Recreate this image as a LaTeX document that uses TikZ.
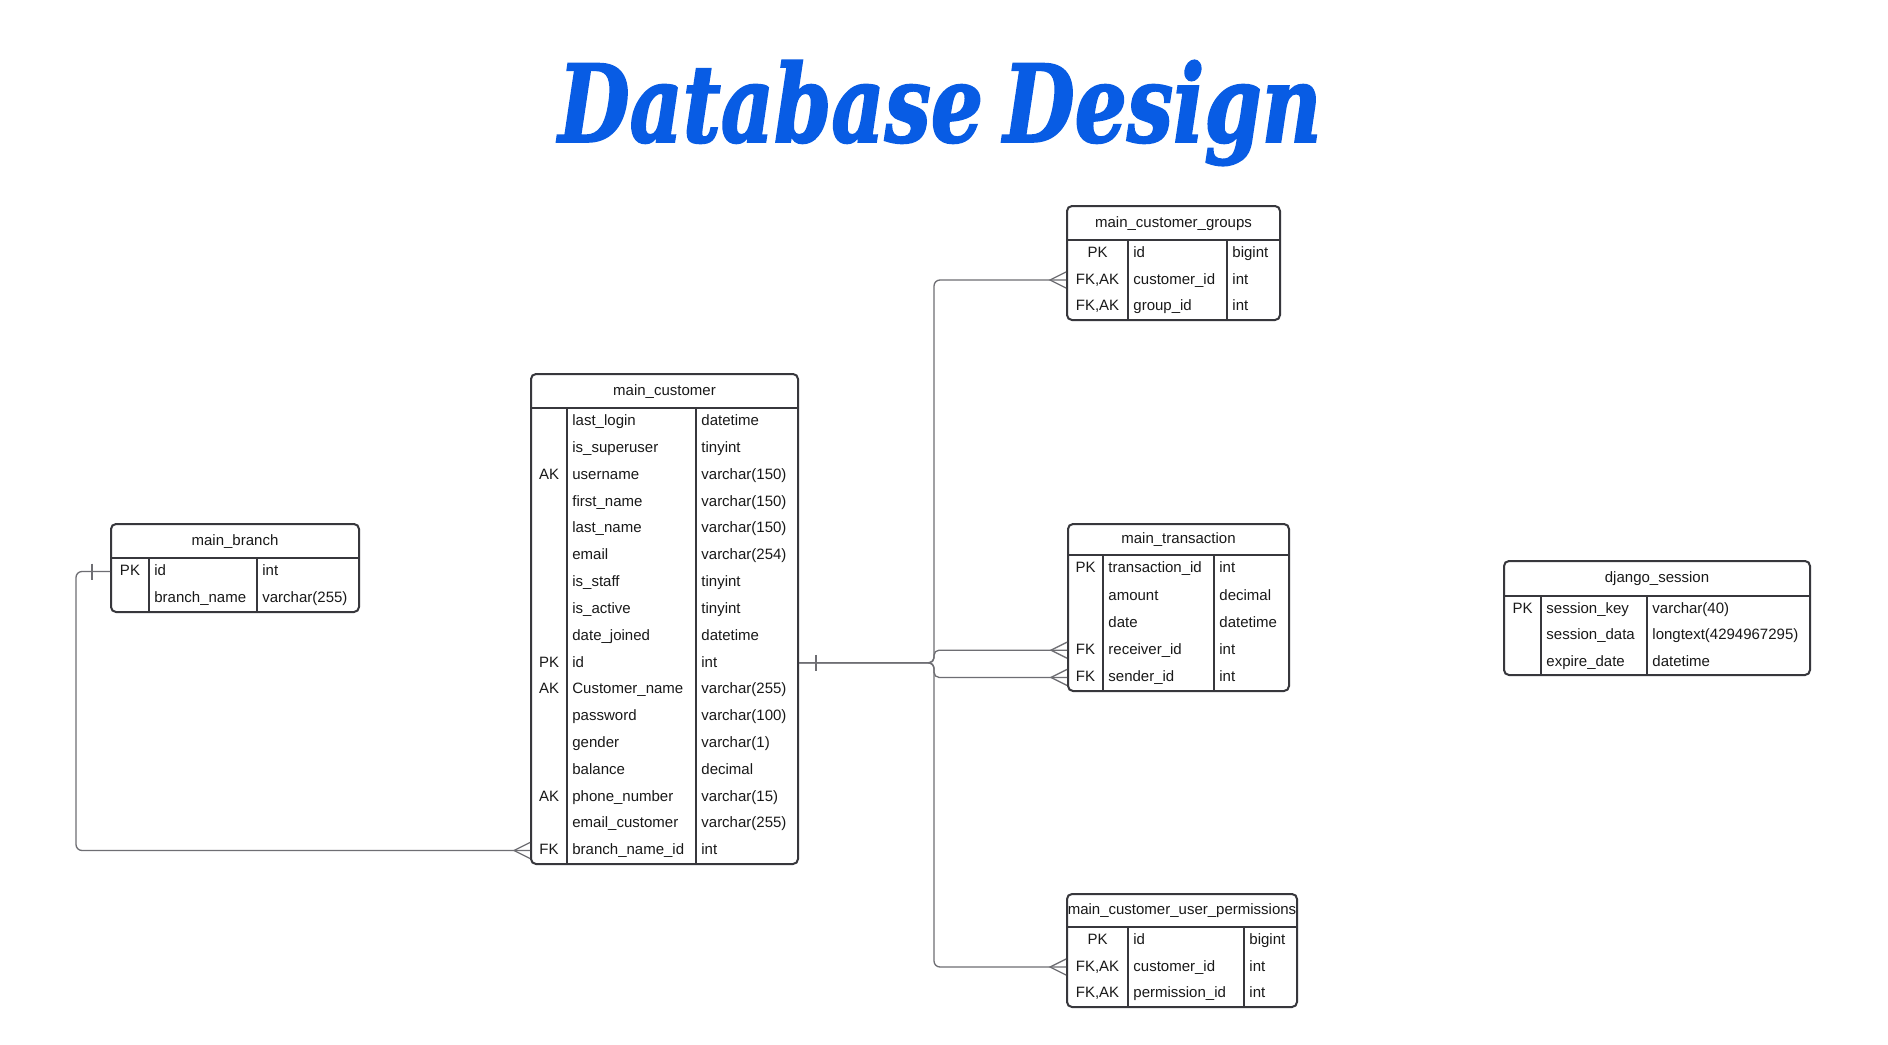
\documentclass[tikz,border=0pt]{standalone}
\usepackage{fontspec}
\usepackage{graphicx}
\setmainfont{Liberation Sans}
\newfontfamily\titlefont{DejaVu Serif}[BoldItalicFeatures={FakeBold=2}]
\usetikzlibrary{fit,calc}
\definecolor{titleblue}{RGB}{8,92,228}
\definecolor{boxline}{RGB}{55,55,60}
\definecolor{connline}{RGB}{110,110,115}
\definecolor{txt}{RGB}{25,25,25}
\newcommand\erRow[5]{%
  \node[keyt] (#1k) at (\kx,#2) {#3};
  \node[namet] (#1n) at (\nx,#2) {#4};
  \node[typet] (#1t) at (\tx,#2) {#5};}
\tikzset{
  tbl/.style={draw=boxline, line width=1pt, rounded corners=2.5pt, inner sep=0pt},
  cell/.style={inner sep=0pt, text=txt, font=\fontsize{7.5}{9}\selectfont, text height=5.6pt, text depth=1.4pt},
  keyt/.style={cell, anchor=center},
  namet/.style={cell, anchor=west},
  typet/.style={cell, anchor=west},
  hdr/.style={cell, anchor=center},
  gridline/.style={draw=boxline, line width=0.8pt},
  conn/.style={draw=connline, line width=0.65pt},
}
\begin{document}
\begin{tikzpicture}[x=0.5pt, y=-0.5pt]
\fill[white] (0,0) rectangle (1888,1044);
\useasboundingbox (0,0) rectangle (1888,1044);

% Title
\node[text=titleblue, inner sep=0pt] (title) at (940,113)
  {\resizebox*{381.5pt}{52.5pt}{\titlefont\bfseries\itshape Database\kern-0.1em\ Design}};

% main_branch
\node[tbl, fit={(111,524)(359,612)}] (mb) {};
\draw[gridline] (111,558) -- (359,558);
\draw[gridline] (149,558) -- (149,612);
\draw[gridline] (257,558) -- (257,612);
\node[hdr] (mbh) at (235,541) {main\_branch};
\def\kx{130}\def\nx{154}\def\tx{262}
\erRow{mb1}{571.5}{PK}{id}{int}
\erRow{mb2}{598.5}{}{branch\_name}{varchar(255)}

% main_customer
\node[tbl, fit={(531,374)(798,864)}] (mc) {};
\draw[gridline] (531,408) -- (798,408);
\draw[gridline] (567,408) -- (567,864);
\draw[gridline] (696,408) -- (696,864);
\node[hdr] (mch) at (664.5,391) {main\_customer};
\def\kx{549}\def\nx{572}\def\tx{701}
\erRow{mc1}{421.4}{}{last\_login}{datetime}
\erRow{mc2}{448.2}{}{is\_superuser}{tinyint}
\erRow{mc3}{475.0}{AK}{username}{varchar(150)}
\erRow{mc4}{501.9}{}{first\_name}{varchar(150)}
\erRow{mc5}{528.7}{}{last\_name}{varchar(150)}
\erRow{mc6}{555.5}{}{email}{varchar(254)}
\erRow{mc7}{582.3}{}{is\_staff}{tinyint}
\erRow{mc8}{609.1}{}{is\_active}{tinyint}
\erRow{mc9}{636.0}{}{date\_joined}{datetime}
\erRow{mc10}{662.8}{PK}{id}{int}
\erRow{mc11}{689.6}{AK}{Customer\_name}{varchar(255)}
\erRow{mc12}{716.4}{}{password}{varchar(100)}
\erRow{mc13}{743.2}{}{gender}{varchar(1)}
\erRow{mc14}{770.1}{}{balance}{decimal}
\erRow{mc15}{796.9}{AK}{phone\_number}{varchar(15)}
\erRow{mc16}{823.7}{}{email\_customer}{varchar(255)}
\erRow{mc17}{850.5}{FK}{branch\_name\_id}{int}

% main_customer_groups
\node[tbl, fit={(1067,206)(1280,320)}] (mg) {};
\draw[gridline] (1067,240) -- (1280,240);
\draw[gridline] (1128,240) -- (1128,320);
\draw[gridline] (1227,240) -- (1227,320);
\node[hdr] (mgh) at (1173.5,223) {main\_customer\_groups};
\def\kx{1097.5}\def\nx{1133}\def\tx{1232}
\erRow{mg1}{253.3}{PK}{id}{bigint}
\erRow{mg2}{280.0}{FK,AK}{customer\_id}{int}
\erRow{mg3}{306.7}{FK,AK}{group\_id}{int}

% main_transaction
\node[tbl, fit={(1068,524)(1289,691)}] (mt) {};
\draw[gridline] (1068,555) -- (1289,555);
\draw[gridline] (1103,555) -- (1103,691);
\draw[gridline] (1214,555) -- (1214,691);
\node[hdr] (mth) at (1178.5,539.5) {main\_transaction};
\def\kx{1085.5}\def\nx{1108}\def\tx{1219}
\erRow{mt1}{568.6}{PK}{transaction\_id}{int}
\erRow{mt2}{595.8}{}{amount}{decimal}
\erRow{mt3}{623.0}{}{date}{datetime}
\erRow{mt4}{650.2}{FK}{receiver\_id}{int}
\erRow{mt5}{677.4}{FK}{sender\_id}{int}

% main_customer_user_permissions
\node[tbl, fit={(1067,894)(1297,1007)}] (mp) {};
\draw[gridline] (1067,927) -- (1297,927);
\draw[gridline] (1128,927) -- (1128,1007);
\draw[gridline] (1244,927) -- (1244,1007);
\node[hdr] (mph) at (1182,910.5) {main\_customer\_user\_permissions};
\def\kx{1097.5}\def\nx{1133}\def\tx{1249}
\erRow{mp1}{940.3}{PK}{id}{bigint}
\erRow{mp2}{967.0}{FK,AK}{customer\_id}{int}
\erRow{mp3}{993.7}{FK,AK}{permission\_id}{int}

% django_session
\node[tbl, fit={(1504,561)(1810,675)}] (ds) {};
\draw[gridline] (1504,596) -- (1810,596);
\draw[gridline] (1541,596) -- (1541,675);
\draw[gridline] (1647,596) -- (1647,675);
\node[hdr] (dsh) at (1657,578.5) {django\_session};
\def\kx{1522.5}\def\nx{1546}\def\tx{1652}
\erRow{ds1}{609.2}{PK}{session\_key}{varchar(40)}
\erRow{ds2}{635.5}{}{session\_data}{longtext(4294967295)}
\erRow{ds3}{661.8}{}{expire\_date}{datetime}

% Connector: main_branch.id -> main_customer.branch_name_id
\draw[conn, rounded corners=3pt] (mb.west |- mb1n) -- ++(-34,0) |- (mc.west |- mc17n);
\draw[conn] ($(mb.west |- mb1n)+(-18,-8)$) -- ++(0,16);
\draw[conn] ($(mc.west |- mc17n)+(0,-8)$) -- ++(-16,8) -- ++(16,8);

% Connectors from main_customer.id
\coordinate (hub) at ($(mc.east |- mc10n)+(135,0)$);
\draw[conn] ($(mc.east |- mc10n)+(17,-8)$) -- ++(0,16);
\draw[conn, rounded corners=3pt] (mc.east |- mc10n) -- (hub) |- (mg.west |- mg2n);
\draw[conn, rounded corners=3pt] (mc.east |- mc10n) -- (hub) |- (mp.west |- mp2n);
\draw[conn, rounded corners=2.5pt] (mc.east |- mc10n) -- (hub) -- (hub |- mt4n) -- (mt.west |- mt4n);
\draw[conn, rounded corners=2.5pt] (mc.east |- mc10n) -- (hub) -- (hub |- mt5n) -- (mt.west |- mt5n);

% crow's feet
\draw[conn] ($(mg.west |- mg2n)+(0,-8)$) -- ++(-16,8) -- ++(16,8);
\draw[conn] ($(mt.west |- mt4n)+(0,-8)$) -- ++(-16,8) -- ++(16,8);
\draw[conn] ($(mt.west |- mt5n)+(0,-8)$) -- ++(-16,8) -- ++(16,8);
\draw[conn] ($(mp.west |- mp2n)+(0,-8)$) -- ++(-16,8) -- ++(16,8);
\end{tikzpicture}
\end{document}
